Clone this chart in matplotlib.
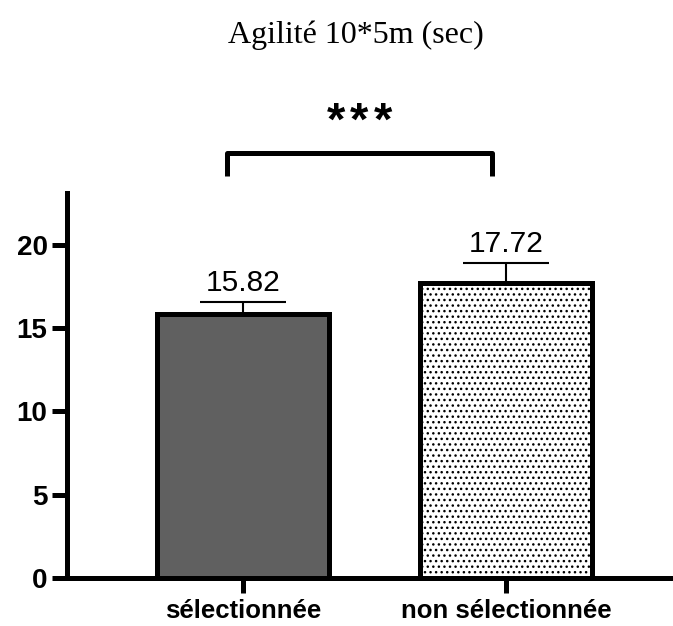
import matplotlib.pyplot as plt

groups = ['sélectionnée', 'non sélectionnée']
means = [15.82, 17.72]
sd = [0.75, 1.2]
yticks = [0, 5, 10, 15, 20]

plt.rcParams['hatch.linewidth'] = 1.0
plt.rcParams['hatch.color'] = '#444444'

fig = plt.figure(figsize=(6.73, 6.26), dpi=100)
ax = fig.add_axes([67 / 673, 48 / 626, 1 - 67 / 673, 385 / 626])

x = [0, 1]
bars = ax.bar(x, means, width=0.655, color=['#606060', 'white'],
              edgecolor='black', linewidth=3.6, zorder=3)
bars[1].set_hatch('...')

ax.errorbar(x, means, yerr=[[0, 0], sd], fmt='none', ecolor='black',
            elinewidth=1.5, capsize=31, capthick=1.5, zorder=2)

for xi, m, s in zip(x, means, sd):
    ax.text(xi, m + s + 0.3, f'{m:.2f}', ha='center', va='bottom',
            fontsize=21.5, family='Liberation Sans')

# significance bracket with three spaced asterisks
bx0, bx1 = -0.06, 0.945
ax.plot([bx0, bx0, bx1, bx1], [24.15, 25.5, 25.5, 24.15], color='black',
        linewidth=3.6, clip_on=False, solid_capstyle='butt')
mid = (bx0 + bx1) / 2
for dx in (-0.09, 0, 0.09):
    ax.text(mid + dx, 26.0, '*', ha='center', va='bottom', clip_on=False,
            fontsize=34, fontweight='bold', family='Liberation Sans')

ax.set_xlim(-0.669, 1.635)
ax.set_ylim(0, 23.1)
ax.set_yticks(yticks)
ax.set_xticks(x)
ax.set_xticklabels(groups, fontsize=18.5, fontweight='bold', family='Liberation Sans')
for lab in ax.get_yticklabels():
    lab.set_fontsize(20)
    lab.set_fontweight('bold')
    lab.set_family('Liberation Sans')

for side in ['top', 'right']:
    ax.spines[side].set_visible(False)
for side in ['left', 'bottom']:
    ax.spines[side].set_linewidth(3.6)
ax.tick_params(axis='y', width=3.6, length=11, pad=3)
ax.tick_params(axis='x', width=3.6, length=11, pad=4)

fig.text(356 / 673, 1 - 35 / 626, 'Agilité 10*5m (sec)', ha='center', va='center',
         fontsize=23, family='Liberation Serif')

fig.savefig('out.png', dpi=100)
